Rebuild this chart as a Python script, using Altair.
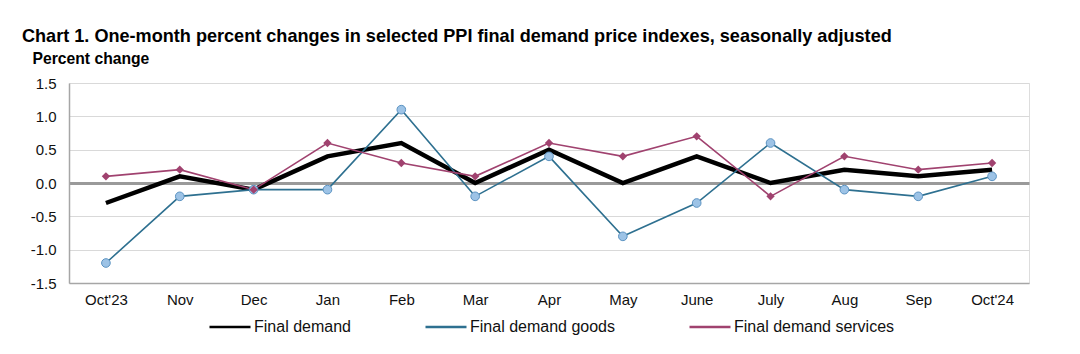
import altair as alt
import pandas as pd

months = ["Oct'23", "Nov", "Dec", "Jan", "Feb", "Mar", "Apr", "May", "June", "July", "Aug", "Sep", "Oct'24"]
final_demand = [-0.3, 0.1, -0.1, 0.4, 0.6, 0.0, 0.5, 0.0, 0.4, 0.0, 0.2, 0.1, 0.2]
final_goods = [-1.2, -0.2, -0.1, -0.1, 1.1, -0.2, 0.4, -0.8, -0.3, 0.6, -0.1, -0.2, 0.1]
final_services = [0.1, 0.2, -0.1, 0.6, 0.3, 0.1, 0.6, 0.4, 0.7, -0.2, 0.4, 0.2, 0.3]
y_ticks = [-1.5, -1.0, -0.5, 0.0, 0.5, 1.0, 1.5]

series_names = ["Final demand", "Final demand goods", "Final demand services"]
series_colors = ["#000000", "#2E7090", "#A0426F"]

rows = []
for name, vals in zip(series_names, [final_demand, final_goods, final_services]):
    for m, v in zip(months, vals):
        rows.append({"month": m, "series": name, "value": v})
df = pd.DataFrame(rows)

FONT = "Liberation Sans"

x_scale = alt.Scale(type="point", domain=months, padding=0.5)
y_scale = alt.Scale(domain=[-1.5, 1.5], nice=False, zero=False)

x_enc = alt.X("month:N", sort=months, scale=x_scale,
              axis=alt.Axis(title=None, ticks=False, labelPadding=9, labelAngle=0,
                            labelFontSize=15, labelFont=FONT, labelColor="#111111",
                            domainColor="#A6A6A6", domainWidth=1.5, grid=False))
y_enc = alt.Y("value:Q", scale=y_scale,
              axis=alt.Axis(title="Percent change", titleAngle=0, titleAlign="left",
                            titleBaseline="middle", titleX=-37, titleY=-25,
                            titleFontSize=15.7, titleFont=FONT, titleFontWeight="bold",
                            titleColor="#000000",
                            values=y_ticks, labelOverlap=False, grid=True,
                            labelExpr="replace(format(datum.value, '.1f'), '\u2212', '-')",
                            ticks=False, labelPadding=13, labelFontSize=15, labelFont=FONT,
                            labelColor="#111111",
                            gridColor={"condition": {"test": "datum.value === 0", "value": "#9A9A9A"},
                                       "value": "#D9D9D9"},
                            gridWidth={"condition": {"test": "datum.value === 0", "value": 3},
                                       "value": 1},
                            domainColor="#A6A6A6", domainWidth=1.5))

base = alt.Chart(df)

lines = base.mark_line().encode(
    x=x_enc, y=y_enc,
    stroke=alt.Stroke("series:N", scale=alt.Scale(domain=series_names, range=series_colors),
                      legend=alt.Legend(orient="none", legendX=139, legendY=222, direction="horizontal",
                                        symbolType="stroke", symbolSize=1681, symbolStrokeWidth=2.5,
                                        labelFontSize=16, labelFont=FONT, labelColor="#111111",
                                        labelLimit=400, labelOffset=2, columnPadding=69, title=None)),
    strokeWidth=alt.condition(alt.datum.series == "Final demand", alt.value(4.5), alt.value(1.6)),
)

goods_pts = base.transform_filter(alt.datum.series == "Final demand goods").mark_point(
    filled=True, shape="circle", size=75, fill="#9DC3E6", stroke="#5C93C2", strokeWidth=1, opacity=1
).encode(x=x_enc, y=y_enc)

serv_pts = base.transform_filter(alt.datum.series == "Final demand services").mark_point(
    filled=True, shape="diamond", size=70, color="#A0426F", opacity=1
).encode(x=x_enc, y=y_enc)

chart = alt.layer(lines, goods_pts, serv_pts).properties(
    width=960, height=200,
    title=alt.TitleParams(
        "Chart 1. One-month percent changes in selected PPI final demand price indexes, seasonally adjusted",
        anchor="start", frame="group", dx=-47, fontSize=18.1, font=FONT, fontWeight="bold", color="#000000",
        offset=4),
    autosize=alt.AutoSizeParams(type="none"),
    padding={"left": 69, "top": 83, "right": 51, "bottom": 71},
).configure_view(stroke="#D9D9D9", strokeWidth=1.5).configure(background="white")

chart.save("out.html", embed_options={"renderer": "svg", "actions": False})
